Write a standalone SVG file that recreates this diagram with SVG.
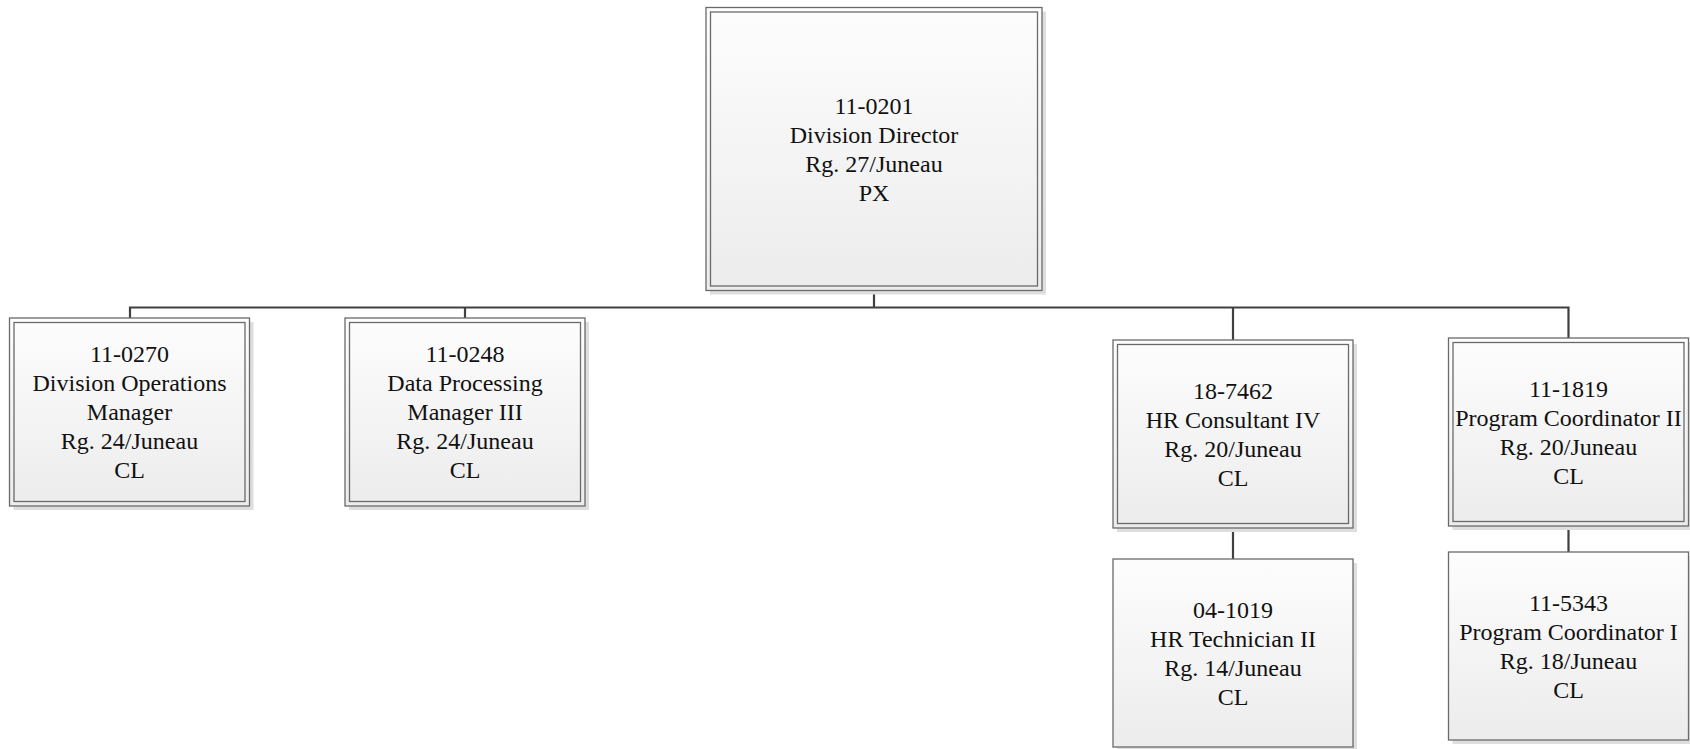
<svg xmlns="http://www.w3.org/2000/svg" width="1690" height="749" viewBox="0 0 1690 749">
<defs>
<linearGradient id="g" x1="0" y1="0" x2="0" y2="1">
<stop offset="0" stop-color="#fdfdfd"/>
<stop offset="1" stop-color="#ececec"/>
</linearGradient>
<style>
.sh{fill:#dedede}
.out{fill:url(#g);stroke:#6a6a6a;stroke-width:1.3}
.in{fill:none;stroke:#6a6a6a;stroke-width:1.3}
.t{font-family:"Liberation Serif","Times New Roman",serif;font-size:24px;fill:#111;text-anchor:middle}
.c{stroke:#404040;stroke-width:2.2;fill:none}
</style>
</defs>
<rect width="1690" height="749" fill="#fff"/>
<g id="connectors">
<path class="c" d="M874 290.5V307.5M130 307.5H1568.5M130 306.5V318M465 306.5V318M1233 306.5V340M1568.5 306.5V338M1233 528V559M1568.5 526V552"/>
</g>
<g id="n110201">
<rect class="sh" x="710" y="11.5" width="336" height="283"/>
<rect class="out" x="706" y="7.5" width="336" height="283"/>
<rect class="in" x="710.5" y="12" width="327" height="274"/>
<text class="t" x="874" y="113.5">11-0201</text>
<text class="t" x="874" y="142.5">Division Director</text>
<text class="t" x="874" y="171.5">Rg. 27/Juneau</text>
<text class="t" x="874" y="200.5">PX</text>
</g>
<g id="n110270">
<rect class="sh" x="13.5" y="322" width="240" height="188"/>
<rect class="out" x="9.5" y="318" width="240" height="188"/>
<rect class="in" x="14" y="322.5" width="231" height="179"/>
<text class="t" x="129.5" y="362">11-0270</text>
<text class="t" x="129.5" y="391">Division Operations</text>
<text class="t" x="129.5" y="420">Manager</text>
<text class="t" x="129.5" y="449">Rg. 24/Juneau</text>
<text class="t" x="129.5" y="478">CL</text>
</g>
<g id="n110248">
<rect class="sh" x="349" y="322" width="240" height="188"/>
<rect class="out" x="345" y="318" width="240" height="188"/>
<rect class="in" x="349.5" y="322.5" width="231" height="179"/>
<text class="t" x="465" y="362">11-0248</text>
<text class="t" x="465" y="391">Data Processing</text>
<text class="t" x="465" y="420">Manager III</text>
<text class="t" x="465" y="449">Rg. 24/Juneau</text>
<text class="t" x="465" y="478">CL</text>
</g>
<g id="n187462">
<rect class="sh" x="1117" y="344" width="240" height="188"/>
<rect class="out" x="1113" y="340" width="240" height="188"/>
<rect class="in" x="1117.5" y="344.5" width="231" height="179"/>
<text class="t" x="1233" y="398.5">18-7462</text>
<text class="t" x="1233" y="427.5">HR Consultant IV</text>
<text class="t" x="1233" y="456.5">Rg. 20/Juneau</text>
<text class="t" x="1233" y="485.5">CL</text>
</g>
<g id="n111819">
<rect class="sh" x="1452.5" y="342" width="240" height="188"/>
<rect class="out" x="1448.5" y="338" width="240" height="188"/>
<rect class="in" x="1453" y="342.5" width="231" height="179"/>
<text class="t" x="1568.5" y="397">11-1819</text>
<text class="t" x="1568.5" y="426">Program Coordinator II</text>
<text class="t" x="1568.5" y="455">Rg. 20/Juneau</text>
<text class="t" x="1568.5" y="484">CL</text>
</g>
<g id="n041019">
<rect class="sh" x="1117" y="563" width="240" height="188"/>
<rect class="out" x="1113" y="559" width="240" height="188"/>
<text class="t" x="1233" y="618">04-1019</text>
<text class="t" x="1233" y="647">HR Technician II</text>
<text class="t" x="1233" y="676">Rg. 14/Juneau</text>
<text class="t" x="1233" y="705">CL</text>
</g>
<g id="n115343">
<rect class="sh" x="1452.5" y="556" width="240" height="188"/>
<rect class="out" x="1448.5" y="552" width="240" height="188"/>
<text class="t" x="1568.5" y="611">11-5343</text>
<text class="t" x="1568.5" y="640">Program Coordinator I</text>
<text class="t" x="1568.5" y="669">Rg. 18/Juneau</text>
<text class="t" x="1568.5" y="698">CL</text>
</g>
</svg>
